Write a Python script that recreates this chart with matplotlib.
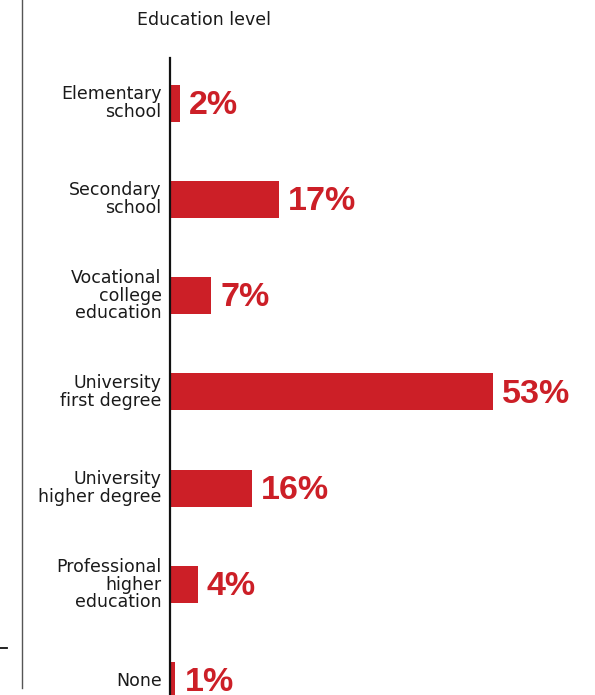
import matplotlib
matplotlib.use("Agg")
import matplotlib.pyplot as plt
from matplotlib.lines import Line2D

categories = ["Elementary\nschool", "Secondary\nschool", "Vocational\ncollege\neducation",
              "University\nfirst degree", "University\nhigher degree",
              "Professional\nhigher\neducation", "None"]
# bar lengths as drawn in the reference (in % units)
bar_values = [1.5, 17.8, 6.6, 53, 13.3, 4.4, 0.75]
value_labels = ["2%", "17%", "7%", "53%", "16%", "4%", "1%"]
title = "Education level"

RED = "#cc1f27"
W, H = 595, 695
fig = plt.figure(figsize=(W / 100, H / 100), dpi=100)

ax_left, ax_top, ax_bottom = 170, 58, 695
ax = fig.add_axes([ax_left / W, 1 - ax_bottom / H, 1 - ax_left / W, (ax_bottom - ax_top) / H])

px_per_unit = 6.08
spacing = 96.3
first_center = 103
ax.set_xlim(0, (W - ax_left) / px_per_unit)
ax.set_ylim((ax_bottom - first_center) / spacing, (ax_top - first_center) / spacing)

pos = list(range(len(bar_values)))
ax.barh(pos, bar_values, height=37 / spacing, color=RED, left=0.15)

for p, v, lab, cat in zip(pos, bar_values, value_labels, categories):
    ax.annotate(lab, xy=(v + 0.15, p), xytext=(6.5, 1), textcoords="offset points",
                ha="left", va="center_baseline", fontsize=24.5, fontweight="bold",
                color=RED, family="Liberation Sans")
    ax.annotate(cat, xy=(0, p), xytext=(-6, 0), textcoords="offset points",
                ha="right", va="center", fontsize=12.5, color="#1a1a1a",
                family="DejaVu Sans", linespacing=0.98)

for s in ["top", "right", "bottom"]:
    ax.spines[s].set_visible(False)
ax.spines["left"].set_linewidth(1.6)
ax.spines["left"].set_color("#111111")
ax.set_xticks([])
ax.set_yticks([])
ax.patch.set_alpha(0)

fig.text(204 / W, 1 - 20 / H, title, ha="center", va="center", fontsize=12.5,
         color="#1a1a1a", family="DejaVu Sans")

fig.add_artist(Line2D([22 / W, 22 / W], [1, 1 - 688 / H], color="#555555", lw=1.0))
fig.add_artist(Line2D([0, 7 / W], [1 - 648 / H, 1 - 648 / H], color="#111111", lw=1.3))

fig.savefig("out.png", dpi=100)
